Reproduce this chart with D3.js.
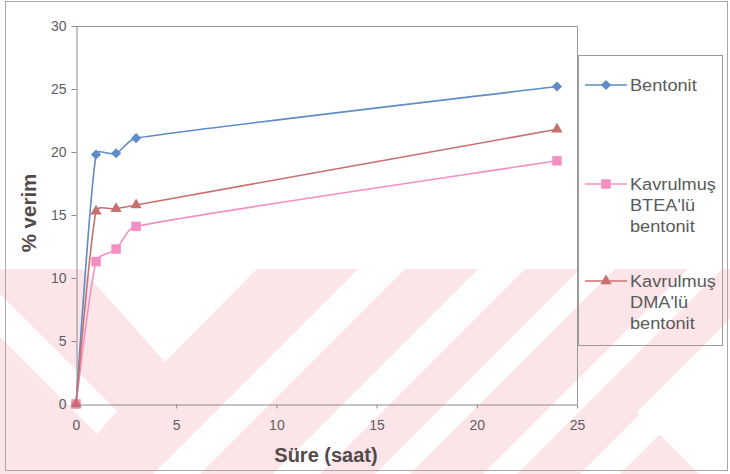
<!DOCTYPE html>
<html>
<head>
<meta charset="utf-8">
<script src="https://cdn.jsdelivr.net/npm/d3@7"></script>
<style>
  html, body { margin: 0; padding: 0; background: #ffffff; }
  svg { display: block; }
  text { font-family: "Liberation Sans", Arial, sans-serif; }
</style>
</head>
<body>
<script>
// Reaction time (hours) and yield (%) for the three bentonite samples
const hours = [0, 1, 2, 3, 24];
const bentonit = [0, 19.8, 19.9, 21.1, 25.2];
const bteaBentonit = [0, 11.3, 12.3, 14.1, 19.3];
const dmaBentonit = [0, 15.3, 15.5, 15.8, 21.8];

const xTicks = [0, 5, 10, 15, 20, 25];
const yTicks = [0, 5, 10, 15, 20, 25, 30];

const legendLabels = [
  ["Bentonit"],
  ["Kavrulmuş", "BTEA'lü", "bentonit"],
  ["Kavrulmuş", "DMA'lü", "bentonit"]
];
const seriesColors = ["#5f8bc6", "#f390c1", "#c9706f"];
const seriesValues = [bentonit, bteaBentonit, dmaBentonit];

const W = 730, H = 474;
const svg = d3.select("body").append("svg").attr("width", W).attr("height", H);

// Faint diagonal background pattern in the lower part of the page
const bg = svg.append("g");
bg.append("rect").attr("x", 0).attr("y", 269).attr("width", W).attr("height", H - 269)
  .attr("fill", "#fce5e9");
const whiteShapes = [
  [[82, 269], [257, 269], [165, 362]],
  [[0, 294], [117, 411], [97, 434], [0, 337]],
  [[358, 269], [405, 269], [200, 474], [153, 474]],
  [[478, 269], [525, 269], [320, 474], [273, 474]],
  [[580, 269], [615, 269], [410, 474], [375, 474]],
  [[688, 269], [722, 269], [517, 474], [483, 474]],
  [[637, 412], [730, 319], [730, 474], [699, 474]],
  [[580, 474], [640, 414], [660, 434], [620, 474]]
];
bg.selectAll("polygon").data(whiteShapes).join("polygon")
  .attr("points", d => d.map(p => p.join(",")).join(" "))
  .attr("fill", "#ffffff");

// Outer chart frame
svg.append("rect").attr("x", 5.5).attr("y", 1.5).attr("width", 722).attr("height", 469)
  .attr("fill", "none").attr("stroke", "#a8a8a8");

const x = d3.scaleLinear().domain([0, 25]).range([76, 577]);
const y = d3.scaleLinear().domain([0, 30]).range([404, 26]);

// Plot area border (top and right)
svg.append("path")
  .attr("d", `M${x(0)},${y(30) + 0.5}H${x(25) + 0.5}V${y(0)}`)
  .attr("fill", "none").attr("stroke", "#9a9a9a");

const yAxis = svg.append("g").attr("transform", `translate(${x(0) + 0.5},0)`)
  .call(d3.axisLeft(y).tickValues(yTicks).tickSize(5).tickSizeOuter(0).tickPadding(5));
const xAxis = svg.append("g").attr("transform", `translate(0,${y(0) + 0.5})`)
  .call(d3.axisBottom(x).tickValues(xTicks).tickSize(4).tickSizeOuter(0).tickPadding(12));
[yAxis, xAxis].forEach(a => {
  a.select(".domain").attr("stroke", "#8a8a8a");
  a.selectAll(".tick line").attr("stroke", "#8a8a8a");
  a.selectAll(".tick text").attr("fill", "#5e5e5e").style("font-size", "14px")
    .style("font-family", "'Liberation Sans', Arial, sans-serif");
});

// Axis titles
svg.append("text").attr("x", 326).attr("y", 462).attr("text-anchor", "middle")
  .attr("fill", "#54494b").style("font-size", "20px").style("font-weight", "bold")
  .text("Süre (saat)");
svg.append("text").attr("transform", "translate(36,213) rotate(-90)")
  .attr("text-anchor", "middle").attr("fill", "#54494b")
  .style("font-size", "20.5px").style("font-weight", "bold").text("% verim");

// Smooth path: tangent at each point follows its neighbours; each handle is
// limited both by the adjacent span and by the neighbour spread, so short and
// long spans stay tidy.
function smoothPath(pts) {
  const p = d3.path();
  const n = pts.length;
  const tan = pts.map((pt, i) => {
    const a = pts[Math.max(0, i - 1)], b = pts[Math.min(n - 1, i + 1)];
    const dx = b[0] - a[0], dy = b[1] - a[1], len = Math.hypot(dx, dy) || 1;
    return [dx / len, dy / len, len / 6];
  });
  p.moveTo(pts[0][0], pts[0][1]);
  for (let i = 0; i < n - 1; i++) {
    const a = pts[i], b = pts[i + 1];
    const L = Math.hypot(b[0] - a[0], b[1] - a[1]) / 3;
    const la = Math.min(L, tan[i][2]), lb = Math.min(L, tan[i + 1][2]);
    p.bezierCurveTo(a[0] + tan[i][0] * la, a[1] + tan[i][1] * la,
                    b[0] - tan[i + 1][0] * lb, b[1] - tan[i + 1][1] * lb,
                    b[0], b[1]);
  }
  return p.toString();
}

const markerShapes = [
  d3.symbol().type(d3.symbolSquare).size(52),
  d3.symbol().type(d3.symbolSquare).size(90),
  d3.symbol().type(d3.symbolTriangle).size(55)
];
const markerRotate = [45, 0, 0];

seriesValues.forEach((vals, i) => {
  const pts = hours.map((h, j) => [x(h), y(vals[j])]);
  const g = svg.append("g");
  g.append("path").attr("d", smoothPath(pts))
    .attr("fill", "none").attr("stroke", seriesColors[i]).attr("stroke-width", 1.6);
  g.selectAll("path.m").data(pts).join("path").attr("class", "m")
    .attr("transform", d => `translate(${d[0]},${d[1]}) rotate(${markerRotate[i]})`)
    .attr("d", markerShapes[i])
    .attr("fill", seriesColors[i]);
});

// Legend
const legend = svg.append("g");
legend.append("rect").attr("x", 578.5).attr("y", 55.5).attr("width", 144).attr("height", 290)
  .attr("fill", "none").attr("stroke", "#9a9a9a");
const legendY = [85, 184, 281];
legendLabels.forEach((lines, i) => {
  const ly = legendY[i];
  legend.append("line").attr("x1", 585).attr("x2", 627).attr("y1", ly).attr("y2", ly)
    .attr("stroke", seriesColors[i]).attr("stroke-width", 1.6);
  legend.append("path").attr("transform", `translate(606,${ly}) rotate(${markerRotate[i]})`)
    .attr("d", markerShapes[i])
    .attr("fill", seriesColors[i]);
  const t = legend.append("text").attr("x", 630).attr("y", ly).attr("fill", "#5a5a5a")
    .attr("transform", "translate(630,0) scale(1.07,1) translate(-630,0)")
    .style("font-size", "17px");
  lines.forEach((s, k) => {
    t.append("tspan").attr("x", 630).attr("y", ly + k * 21).attr("dy", "0.36em").text(s);
  });
});
</script>
</body>
</html>
